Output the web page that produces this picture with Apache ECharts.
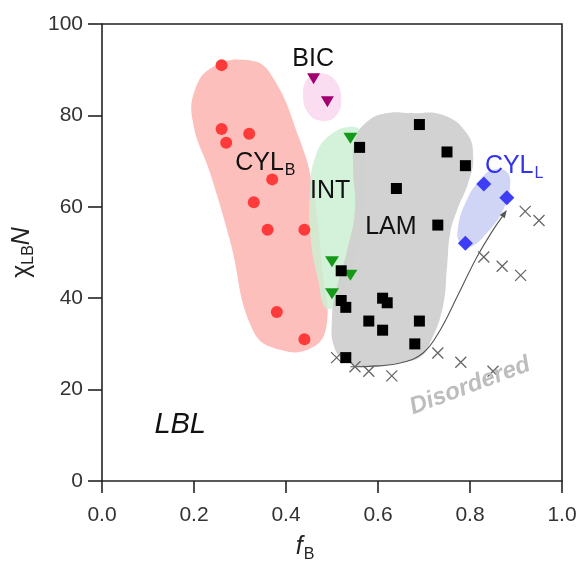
<!DOCTYPE html>
<html>
<head>
<meta charset="utf-8">
<script src="https://cdn.jsdelivr.net/npm/echarts@6/dist/echarts.min.js"></script>
<style>
  html, body { margin: 0; padding: 0; background: #fff; overflow: hidden; }
  #chart { width: 580px; height: 570px; }
</style>
</head>
<body>
<div id="chart"></div>
<script>
// Measured phase points: [f_B, chi_LB * N]
const cylB = [[0.26, 91], [0.26, 77], [0.32, 76], [0.27, 74], [0.37, 66], [0.33, 61], [0.36, 55], [0.44, 55], [0.38, 37], [0.44, 31]];
const bic = [[0.46, 88], [0.49, 83]];
const gyroid = [[0.54, 75], [0.50, 48], [0.54, 45], [0.50, 41]];
const lam = [[0.69, 78], [0.56, 73], [0.75, 72], [0.79, 69], [0.64, 64], [0.73, 56], [0.52, 46], [0.52, 39.5], [0.53, 38], [0.61, 40], [0.62, 39], [0.58, 35], [0.69, 35], [0.61, 33], [0.68, 30], [0.53, 27]];
const cylL = [[0.83, 65], [0.88, 62], [0.79, 52]];
const disordered = [[0.51, 27], [0.55, 25], [0.58, 24], [0.63, 23], [0.73, 28], [0.78, 26], [0.85, 24], [0.83, 49], [0.87, 47], [0.91, 45], [0.92, 59], [0.95, 57]];

// Phase region outlines in data coordinates
const regionCylB = [[0.315, 92.1], [0.365, 89.3], [0.430, 74.6], [0.459, 63.7], [0.480, 45.5], [0.489, 34.6], [0.459, 29.3], [0.387, 28.7], [0.328, 33.0], [0.278, 52.7], [0.235, 67.4], [0.198, 78.3], [0.202, 85.6], [0.241, 90.6]];
const regionBic = [[0.470, 89.3], [0.504, 88.0], [0.520, 83.8], [0.509, 79.9], [0.478, 78.8], [0.448, 80.5], [0.437, 84.9], [0.448, 88.2]];
const regionInt = [[0.546, 77.5], [0.565, 75.7], [0.572, 61.5], [0.550, 48.4], [0.507, 38.5], [0.485, 37.9], [0.470, 44.0], [0.454, 52.7], [0.452, 63.7], [0.465, 71.3], [0.496, 75.7]];
const regionLam = [[0.670, 80.5], [0.741, 80.1], [0.793, 76.1], [0.807, 70.9], [0.796, 65.2], [0.772, 59.3], [0.757, 54.3], [0.750, 46.8], [0.741, 38.1], [0.713, 30.2], [0.691, 27.1], [0.641, 25.8], [0.589, 24.9], [0.539, 25.8], [0.507, 28.7], [0.500, 35.9], [0.511, 42.5], [0.533, 50.5], [0.550, 59.3], [0.546, 68.7], [0.550, 74.6], [0.576, 78.6], [0.620, 80.5]];
const regionCylL = [[0.880, 67.6], [0.887, 64.3], [0.872, 59.3], [0.837, 54.3], [0.800, 51.2], [0.778, 52.1], [0.774, 55.6], [0.793, 61.5], [0.822, 65.9], [0.850, 68.1]];

// Order-disorder boundary arrow
const odtPath = [[0.540, 25.0], [0.600, 25.2], [0.648, 25.8], [0.698, 28.0], [0.735, 33.0], [0.772, 40.3], [0.815, 49.0], [0.850, 54.9], [0.880, 59.3]];

// Phase labels and their anchor points
const phaseLabels = [
  { key: 'BIC', text: 'BIC', at: [0.459, 92.4] },
  { key: 'CYLB', text: '{m|CYL}{s|B}', at: [0.355, 69.5] },
  { key: 'INT', text: 'INT', at: [0.496, 63.5] },
  { key: 'LAM', text: 'LAM', at: [0.628, 55.5] },
  { key: 'CYLL', text: '{m|CYL}{s|L}', at: [0.896, 68.8] },
  { key: 'DIS', text: 'Disordered', at: [0.800, 20.8] },
  { key: 'LBL', text: 'LBL', at: [0.170, 12.3] }
];

const xTicks = [0, 0.2, 0.4, 0.6, 0.8, 1.0];
const yTicks = [0, 20, 40, 60, 80, 100];

const FONT = '"Liberation Sans", Arial, sans-serif';

const regions = [
  { pts: regionCylB, fill: 'rgba(252, 170, 166, 0.75)' },
  { pts: regionBic, fill: 'rgba(250, 210, 238, 0.75)' },
  { pts: regionInt, fill: 'rgba(205, 238, 212, 0.85)' },
  { pts: regionLam, fill: 'rgba(208, 208, 208, 0.95)' },
  { pts: regionCylL, fill: 'rgba(196, 203, 244, 0.8)' }
];

const labelStyles = {
  BIC: { fontSize: 25, color: '#111' },
  CYLB: { color: '#111', rich: { m: { fontSize: 25, color: '#111', fontFamily: FONT }, s: { fontSize: 16, color: '#111', fontFamily: FONT, padding: [14, 0, 0, 1] } } },
  INT: { fontSize: 25, color: '#111' },
  LAM: { fontSize: 25, color: '#111' },
  CYLL: { color: '#3333ee', rich: { m: { fontSize: 25, color: '#3333ee', fontFamily: FONT }, s: { fontSize: 16, color: '#3333ee', fontFamily: FONT, padding: [14, 0, 0, 1] } } },
  DIS: { fontSize: 24, color: '#bdbdbd', fontWeight: 'bold', fontStyle: 'italic', rotation: 0.36 },
  LBL: { fontSize: 29, color: '#111', fontStyle: 'italic' }
};

const chart = echarts.init(document.getElementById('chart'), null, { renderer: 'canvas' });

const axisLine = { show: true, onZero: false, lineStyle: { color: '#222', width: 1.6 } };

const option = {
  animation: false,
  backgroundColor: '#fff',
  grid: { left: 102, right: 18, top: 24, bottom: 89, containLabel: false },
  xAxis: {
    type: 'value', min: xTicks[0], max: xTicks[xTicks.length - 1], interval: 0.2,
    position: 'bottom',
    axisLine: axisLine,
    axisTick: { show: true, inside: false, length: 12, lineStyle: { color: '#222', width: 1.6 } },
    axisLabel: { color: '#333', fontSize: 21, fontFamily: FONT, margin: 24, formatter: v => v.toFixed(1) },
    splitLine: { show: false },
    name: '{f|f}{s|B}',
    nameLocation: 'middle',
    nameGap: 50,
    nameTextStyle: {
      padding: [0, 54, 0, 0],
      rich: {
        f: { fontSize: 25, fontStyle: 'italic', color: '#222', fontFamily: FONT },
        s: { fontSize: 16, color: '#222', fontFamily: FONT, padding: [16, 0, 0, 1] }
      }
    }
  },
  yAxis: {
    type: 'value', min: yTicks[0], max: yTicks[yTicks.length - 1], interval: 20,
    position: 'left',
    axisLine: axisLine,
    axisTick: { show: true, inside: false, length: 14, lineStyle: { color: '#222', width: 1.6 } },
    axisLabel: { color: '#333', fontSize: 21, fontFamily: FONT, margin: 19 },
    splitLine: { show: false },
    name: '{c|χ}{s|LB}{n|N}',
    nameLocation: 'middle',
    nameGap: 47,
    nameRotate: 90,
    nameTextStyle: {
      rich: {
        c: { fontSize: 25, color: '#222', fontFamily: FONT },
        s: { fontSize: 16, color: '#222', fontFamily: FONT, padding: [14, 0, 0, 0] },
        n: { fontSize: 25, fontStyle: 'italic', color: '#222', fontFamily: FONT }
      }
    }
  },
  series: [
    {
      // shaded phase regions
      type: 'custom',
      name: 'regions',
      coordinateSystem: 'cartesian2d',
      z: 1,
      silent: true,
      data: regions.map((r, i) => [i]),
      renderItem: function (params, api) {
        const r = regions[params.dataIndex];
        const pts = r.pts.map(p => api.coord(p));
        return {
          type: 'polygon',
          shape: { points: pts, smooth: 0.45 },
          style: { fill: r.fill, stroke: null }
        };
      }
    },
    {
      // order-disorder boundary with arrowhead
      type: 'custom',
      name: 'odt',
      coordinateSystem: 'cartesian2d',
      z: 2,
      silent: true,
      data: [[0]],
      renderItem: function (params, api) {
        const pts = odtPath.map(p => api.coord(p));
        const a = pts[pts.length - 2], b = pts[pts.length - 1];
        const ang = Math.atan2(b[1] - a[1], b[0] - a[0]);
        const L = 8, W = 3;
        const tip = b;
        const base = [tip[0] - L * Math.cos(ang), tip[1] - L * Math.sin(ang)];
        const left = [base[0] + W * Math.sin(ang), base[1] - W * Math.cos(ang)];
        const right = [base[0] - W * Math.sin(ang), base[1] + W * Math.cos(ang)];
        return {
          type: 'group',
          children: [
            { type: 'polyline', shape: { points: pts.slice(0, -1).concat([base]), smooth: 0.4 }, style: { stroke: '#555', lineWidth: 1.1, fill: null } },
            { type: 'polygon', shape: { points: [tip, left, right] }, style: { fill: '#555' } }
          ]
        };
      }
    },
    {
      type: 'scatter', name: 'CYLB', data: cylB, z: 5,
      symbol: 'circle', symbolSize: 12,
      itemStyle: { color: '#ff3a3a', opacity: 1 }
    },
    {
      type: 'scatter', name: 'BIC', data: bic, z: 5,
      symbol: 'triangle', symbolRotate: 180, symbolSize: [13, 11],
      itemStyle: { color: '#a3006f', opacity: 1 }
    },
    {
      type: 'scatter', name: 'INT', data: gyroid, z: 5,
      symbol: 'triangle', symbolRotate: 180, symbolSize: [14, 11],
      itemStyle: { color: '#149a18', opacity: 1 }
    },
    {
      type: 'scatter', name: 'LAM', data: lam, z: 5,
      symbol: 'rect', symbolSize: 11,
      itemStyle: { color: '#000', opacity: 1 }
    },
    {
      type: 'scatter', name: 'CYLL', data: cylL, z: 5,
      symbol: 'diamond', symbolSize: 15,
      itemStyle: { color: '#3d3df5', opacity: 1 }
    },
    {
      type: 'scatter', name: 'DIS', data: disordered, z: 4,
      symbol: 'path://M0,0L10,10M10,0L0,10', symbolSize: 11,
      itemStyle: { color: 'none', borderColor: '#666', borderWidth: 1.3, opacity: 1 }
    },
    {
      // phase labels
      type: 'custom',
      name: 'labels',
      coordinateSystem: 'cartesian2d',
      z: 6,
      silent: true,
      data: phaseLabels.map((l, i) => [i]),
      renderItem: function (params, api) {
        const l = phaseLabels[params.dataIndex];
        const st = labelStyles[l.key];
        const p = api.coord(l.at);
        const style = Object.assign({
          text: l.text, x: 0, y: 0,
          align: 'center', verticalAlign: 'middle',
          fontFamily: FONT,
          fill: st.color
        }, st.fontSize ? { fontSize: st.fontSize } : {},
           st.fontWeight ? { fontWeight: st.fontWeight } : {},
           st.fontStyle ? { fontStyle: st.fontStyle } : {},
           st.rich ? { rich: st.rich } : {});
        return {
          type: 'text',
          x: p[0], y: p[1],
          rotation: st.rotation || 0,
          style: style
        };
      }
    }
  ]
};

chart.setOption(option);

// Close the plot box (top and right sides) using the axes' own pixel mapping
const xMax = xTicks[xTicks.length - 1], yMax = yTicks[yTicks.length - 1];
const pLo = chart.convertToPixel({ gridIndex: 0 }, [xTicks[0], yTicks[0]]);
const pHi = chart.convertToPixel({ gridIndex: 0 }, [xMax, yMax]);
chart.setOption({
  graphic: [
    {
      type: 'polyline',
      z: 100,
      silent: true,
      shape: { points: [[pLo[0], pHi[1]], [pHi[0], pHi[1]], [pHi[0], pLo[1]]] },
      style: { stroke: '#222', lineWidth: 1.6, fill: null }
    }
  ]
});
</script>
</body>
</html>
